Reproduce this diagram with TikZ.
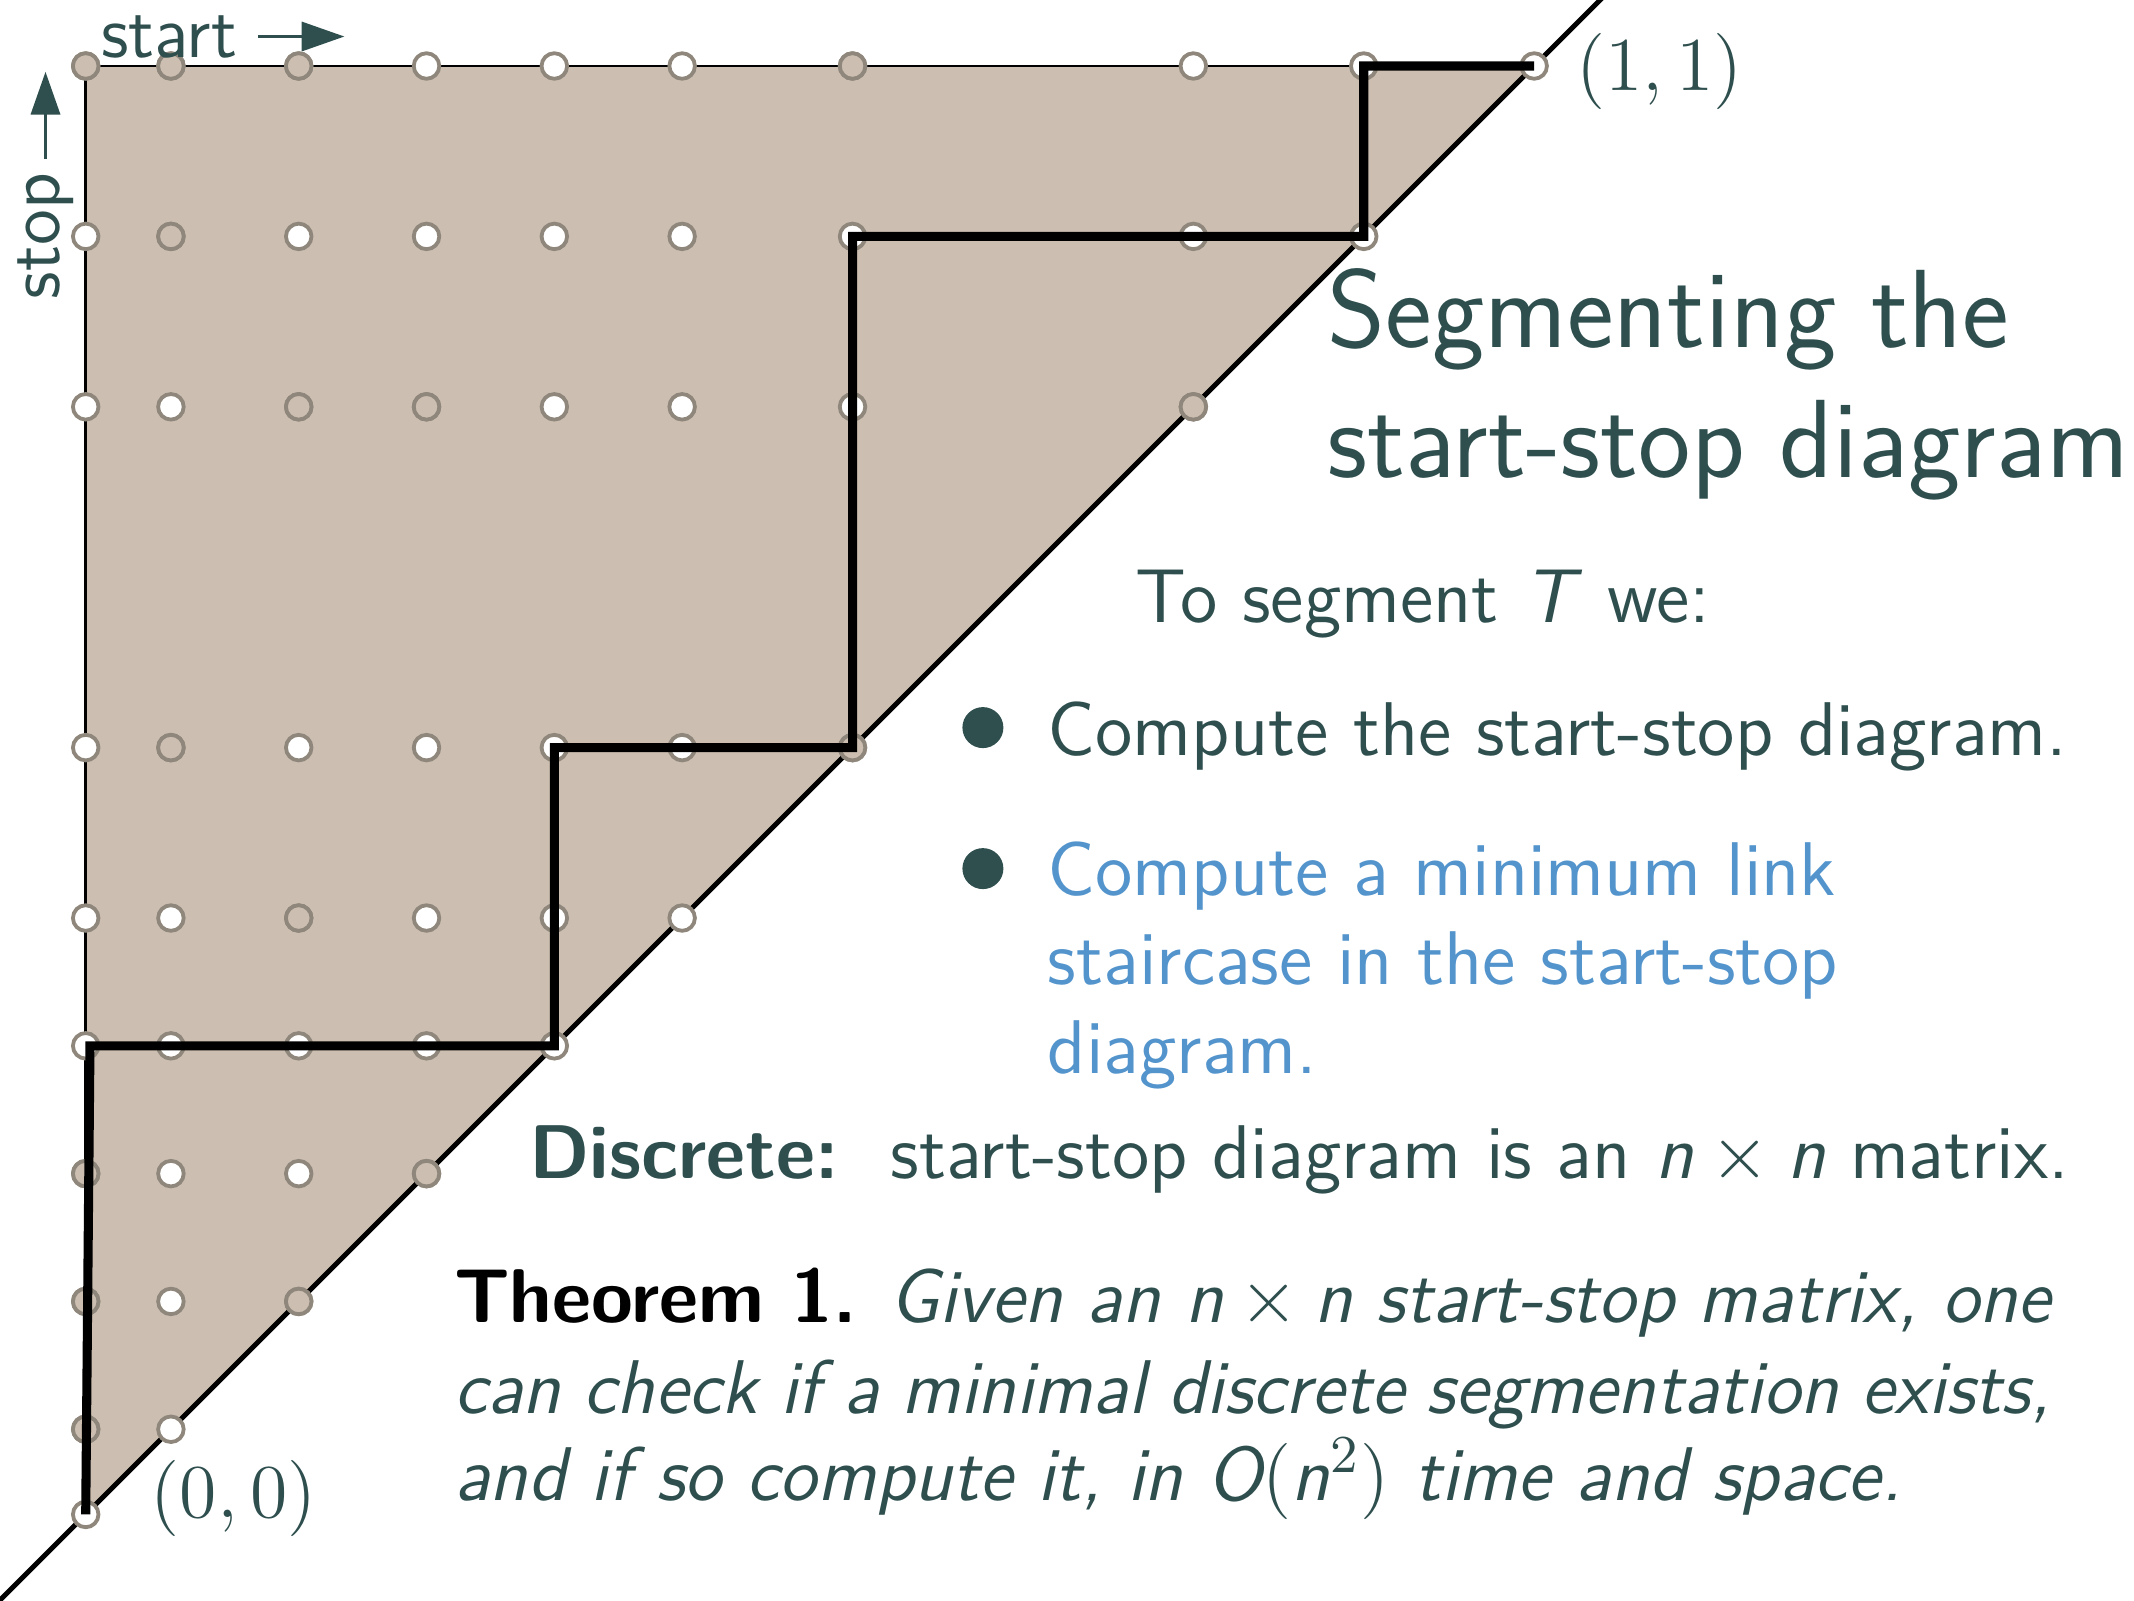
\RequirePackage{fix-cm}
\documentclass[tikz,border=0pt]{standalone}
\usepackage{fontspec}
\usetikzlibrary{arrows.meta}

\definecolor{slate}{RGB}{47,79,79}
\definecolor{linkblue}{RGB}{83,148,204}
\definecolor{region}{RGB}{204,191,177}
\definecolor{dotgray}{RGB}{143,135,123}

\begin{document}
\begin{tikzpicture}[x=0.2557cm, y=0.2557cm, >={Triangle[length=7.3pt,width=5pt]},
    every node/.style={font=\sffamily\fontsize{13}{15.6}\selectfont, text=slate, inner sep=0pt},
    axislbl/.style={anchor=base west, font=\sffamily\fontsize{12.5}{15}\selectfont},
    dot/.style={draw=dotgray, line width=0.65pt, fill=white},
    tandot/.style={dot, fill=region},
    bullet/.style={circle, fill=slate, minimum size=7pt, inner sep=0pt},
    titletext/.style={anchor=base west, font=\sffamily\fontsize{19}{22}\selectfont}]

    % Fijar el marco de la diapositiva
    \useasboundingbox (-2.012,-2.012) rectangle (48.08,35.55);

    % Variables
    \def\dotr{0.30}
    \def\thmw{272.7pt}

    % Dibujar la region del diagrama start-stop
    \fill[region] (0,0) -- (0,34) -- (34,34) -- cycle;
    \draw[line width=0.45pt] (0,0) -- (0,34) -- (34,34);

    % Dibujar la diagonal
    \draw[line width=0.85pt] (-2.1,-2.1) -- (35.7,35.7);

    % Dibujar los puntos de la matriz
    \foreach \a in {0,2,5,8,11,14,18,26,30,34}
        \foreach \b in {0,2,5,8,11,14,18,26,30,34}
            {\ifnum\b<\a\else \filldraw[dot] (\a,\b) circle (\dotr);\fi}
    \foreach \p in {(0,34),(2,34),(5,34),(18,34),(2,30),(5,26),(8,26),(26,26),
                    (2,18),(18,18),(5,14),(0,8),(8,8),(0,5),(5,5),(0,2)}
        \filldraw[tandot] \p circle (\dotr);

    % Dibujar la escalera
    \draw[line width=1.55pt] (0,0) -- (0.1,11) -- (11,11) -- (11,18) -- (18,18)
        -- (18,30) -- (30,30) -- (30,34) -- (34,34);

    % Etiquetas de los ejes
    \node[axislbl] (startlbl) at (0.336,34.21) {start};
    \coordinate (starttip) at ([xshift=18.1pt]startlbl.east);
    \draw[->, slate, line width=0.45pt, shorten <=3.4pt] (startlbl.east) -- (starttip);

    \node[axislbl, rotate=90] (stoplbl) at (-0.62,28.5) {stop};
    \coordinate (stoptip) at ([yshift=17.1pt]stoplbl.east);
    \draw[->, slate, line width=0.45pt, shorten <=2.2pt] (stoplbl.east) -- (stoptip);

    % Esquinas
    \node[anchor=base west] (onelbl) at (34.97,33.43) {$(1,1)$};
    \node[anchor=base west] (zerolbl) at (1.50,-0.064) {$(0,0)$};

    % Titulo
    \node[titletext] (title1) at (29.12,27.40) {Segmenting the};
    \node[titletext] (title2) at (29.12,24.33) {start-stop diagram};

    % Texto
    \node[anchor=base west] (intro) at (24.62,20.94) {To segment \textit{T} we:};

    \node[bullet] (b1) at (21.06,18.47) {};
    \node[anchor=base west] (item1) at (22.56,17.82) {Compute the start-stop diagram.};
    \node[bullet] (b2) at (21.06,15.16) {};
    \node[anchor=base west, text=linkblue] (item2a) at (22.56,14.54) {Compute a minimum link};
    \node[anchor=base west, text=linkblue] (item2b) at (22.56,12.43) {staircase in the start-stop};
    \node[anchor=base west, text=linkblue] (item2c) at (22.56,10.36) {diagram.};

    \node[anchor=base west] (discrete) at (10.38,7.89)
        {\textbf{Discrete:}\hspace{0.25em} start-stop diagram is an $\textit{n}\times\textit{n}$ matrix.};

    % Teorema
    \node[anchor=base west] (thm1) at (8.62,4.51)
        {\makebox[\thmw][s]{\textcolor{black}{\textbf{Theorem 1.}} \itshape Given an $\textit{n}\times\textit{n}$ start-stop matrix, one}};
    \node[anchor=base west] (thm2) at (8.62,2.38)
        {\makebox[\thmw][s]{\itshape can check if a minimal discrete segmentation exists,}};
    \node[anchor=base west] (thm3) at (8.62,0.336)
        {\itshape and if so compute it, in $\textit{O}(\textit{n}^2)$ time and space.};

\end{tikzpicture}
\end{document}
